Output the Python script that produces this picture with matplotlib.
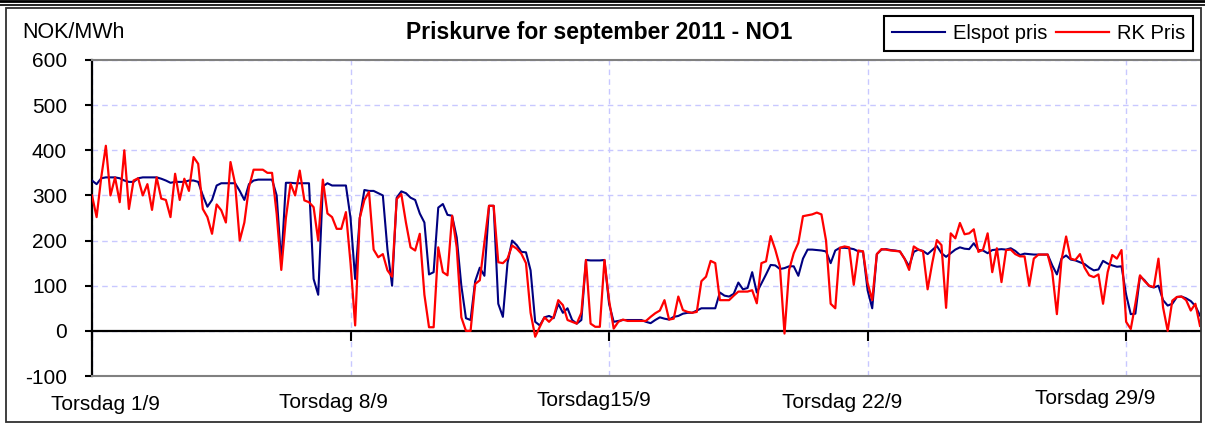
import matplotlib
matplotlib.use('Agg')
import matplotlib.pyplot as plt
import numpy as np
from matplotlib.lines import Line2D
from matplotlib.patches import Rectangle

# ---------------- data (3-hourly, September 2011, NO1) ----------------
step_hours = 3
elspot = [
    333, 325, 338, 340, 340, 340, 338, 333,
    330, 330, 338, 340, 340, 340, 340, 337,
    333, 328, 330, 330, 330, 333, 333, 330,
    300, 275, 290, 322, 327, 327, 327, 327,
    310, 290, 325, 333, 335, 335, 335, 335,
    300, 150, 328, 328, 327, 327, 327, 327,
    115, 80, 320, 327, 322, 322, 322, 322,
    250, 115, 250, 312, 310, 310, 305, 300,
    180, 100, 295, 309, 305, 295, 290, 260,
    240, 125, 130, 273, 281, 257, 255, 207,
    100, 28, 24, 110, 140, 122, 277, 277,
    60, 31, 150, 200, 190, 175, 174, 134,
    20, 12, 30, 33, 28, 60, 40, 50,
    24, 16, 24, 157, 156, 156, 156, 157,
    60, 20, 22, 24, 24, 24, 24, 24,
    20, 17, 24, 30, 27, 25, 31, 33,
    38, 40, 40, 45, 50, 50, 50, 50,
    85, 78, 76, 82, 107, 92, 95, 130,
    85, 105, 125, 146, 145, 137, 139, 143,
    143, 122, 160, 180, 180, 179, 178, 176,
    150, 178, 184, 184, 183, 181, 176, 176,
    90, 50, 170, 180, 181, 179, 178, 176,
    160, 143, 175, 180, 177, 170, 179, 188,
    172, 164, 172, 180, 185, 182, 181, 194,
    179, 178, 172, 179, 180, 181, 180, 183,
    177, 168, 171, 170, 169, 169, 169, 169,
    145, 125, 160, 167, 158, 156, 152, 148,
    140, 134, 136, 155, 149, 145, 142, 143,
    80, 37, 38, 121, 112, 99, 96, 100,
    68, 56, 60, 75, 76, 72, 66, 55, 34,
]
rk_pris = [
    300, 252, 340, 410, 300, 340, 285, 400,
    270, 333, 338, 300, 325, 268, 340, 293,
    290, 252, 348, 290, 337, 310, 385, 370,
    270, 252, 215, 280, 267, 240, 374, 326,
    200, 240, 318, 357, 357, 357, 350, 350,
    259, 135, 250, 326, 300, 355, 289, 285,
    274, 200, 335, 260, 252, 226, 226, 263,
    150, 12, 250, 290, 308, 180, 163, 170,
    134, 120, 292, 303, 240, 185, 178, 215,
    80, 8, 8, 185, 130, 123, 255, 185,
    30, 0, 0, 104, 112, 196, 277, 277,
    152, 150, 160, 189, 182, 171, 150, 40,
    -13, 9, 30, 20, 31, 68, 57, 24,
    20, 16, 40, 157, 16, 9, 9, 157,
    68, 5, 20, 25, 22, 22, 22, 22,
    22, 31, 39, 45, 68, 25, 27, 76,
    46, 42, 40, 42, 110, 120, 155, 150,
    68, 68, 68, 78, 87, 87, 87, 90,
    61, 150, 154, 210, 180, 143, -6, 135,
    172, 195, 254, 256, 258, 262, 258, 200,
    60, 50, 184, 187, 185, 102, 178, 176,
    106, 68, 170, 181, 180, 178, 177, 176,
    160, 135, 187, 180, 176, 92, 150, 201,
    190, 51, 216, 205, 239, 214, 216, 225,
    175, 180, 216, 130, 183, 108, 179, 180,
    170, 165, 165, 100, 160, 169, 169, 169,
    130, 37, 157, 209, 160, 157, 170, 140,
    123, 119, 125, 60, 130, 168, 160, 179,
    20, 4, 60, 123, 110, 100, 97, 160,
    52, 0, 67, 75, 76, 68, 45, 60, 11,
]
series_names = ["Elspot pris", "RK Pris"]
week_ticks = [0, 168, 336, 504, 672]
week_labels = ["Torsdag 1/9", "Torsdag 8/9", "Torsdag15/9", "Torsdag 22/9", "Torsdag 29/9"]
y_ticks = [-100, 0, 100, 200, 300, 400, 500, 600]
title = "Priskurve for september 2011 - NO1"
y_unit = "NOK/MWh"

# ---------------- figure ----------------
plt.rcParams['font.family'] = ['Liberation Sans', 'DejaVu Sans']
W, H = 1205, 426
fig = plt.figure(figsize=(W / 100, H / 100), dpi=100)
fig.patch.set_facecolor('white')

ax = fig.add_axes([92 / W, 1 - 376 / H, 1108 / W, 316 / H])
hours = np.arange(len(elspot)) * step_hours
ax.plot(hours, elspot, color='#000080', lw=1.5, zorder=3, solid_joinstyle='round')
ax.plot(hours, rk_pris, color='#ff0000', lw=1.6, zorder=4, solid_joinstyle='round')

ax.set_xlim(0, 720)
ax.set_ylim(-100, 600)
ax.set_yticks(y_ticks)
ax.set_yticklabels([str(v) for v in y_ticks])
ax.set_xticks(week_ticks)
ax.tick_params(axis='x', direction='out', length=7, width=1.5, labelbottom=False, color='black')
ax.tick_params(axis='y', direction='out', length=5, width=1.5, labelsize=15, pad=13, color='black')

ax.spines['bottom'].set_position(('data', 0))
ax.spines['bottom'].set_linewidth(1.6)
ax.spines['left'].set_linewidth(1.6)
ax.spines['top'].set_color('#808080')
ax.spines['top'].set_linewidth(1.5)
ax.spines['right'].set_visible(False)
ax.grid(True, color='#c8c8ff', linestyle=(0, (4, 3)), lw=1.0, zorder=1)
ax.set_axisbelow(True)
ax.axhline(-100, color='#808080', lw=1.5, clip_on=False, zorder=5)

# x tick labels (positioned like the original chart)
label_pos = [(105, 404), (333, 402), (594, 400), (842, 402), (1095, 398)]
for (px, py), lab in zip(label_pos, week_labels):
    fig.text(px / W, 1 - py / H, lab, ha='center', va='center', fontsize=15)

fig.text(599 / W, 1 - 32 / H, title, ha='center', va='center', fontsize=16.5, fontweight='bold')
fig.text(22 / W, 1 - 32 / H, y_unit, ha='left', va='center', fontsize=15.5)

handles = [Line2D([], [], color='#000080', lw=1.5), Line2D([], [], color='#ff0000', lw=1.6)]
leg = fig.legend(handles, series_names, ncol=2, loc='upper right',
                 bbox_to_anchor=(1193 / W, 1 - 16 / H), frameon=True, fancybox=False,
                 edgecolor='black', framealpha=1, fontsize=14.5, borderaxespad=0,
                 handlelength=2.6, handletextpad=0.4, columnspacing=0.45, borderpad=0.4)
leg.get_frame().set_linewidth(1.5)

# outer frame and top rules
fig.patches.append(Rectangle((6 / W, 1 - 422 / H), 1195 / W, 414 / H, transform=fig.transFigure,
                             fill=False, edgecolor='#303030', lw=1.3))
fig.lines.append(Line2D([0, 1], [1 - 1.3 / H] * 2, transform=fig.transFigure, color='black', lw=2.0))
fig.lines.append(Line2D([0, 1], [1 - 5 / H] * 2, transform=fig.transFigure, color='black', lw=1.2))

fig.savefig('out.png', dpi=100)
